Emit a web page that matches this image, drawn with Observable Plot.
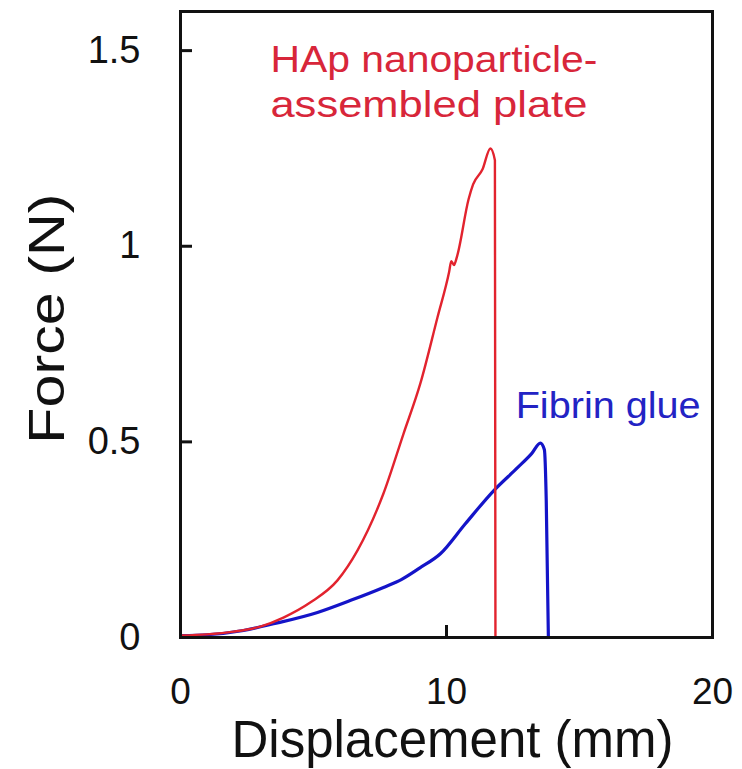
<!DOCTYPE html>
<html>
<head>
<meta charset="utf-8">
<script src="https://cdn.jsdelivr.net/npm/d3@7"></script>
<script src="https://cdn.jsdelivr.net/npm/@observablehq/plot@0.6"></script>
<style>
  html, body { margin: 0; padding: 0; background: #fff; }
  #chart { width: 742px; height: 769px; }
</style>
</head>
<body>
<div id="chart"></div>
<script>
// Axis ticks
const xTicks = [0, 10, 20];
const yTicks = [0, 0.5, 1, 1.5];
const yTickLabels = ["0", "0.5", "1", "1.5"];

// HAp nanoparticle-assembled plate (red)
const hapX = [0, 1, 2, 3, 3.87, 4.89, 5.9, 6.65, 7.63, 8.38, 9.02, 9.66, 10.1, 10.18, 10.28, 10.4, 10.83, 11.0, 11.35, 11.65, 11.82, 11.84];
const hapY = [0.005, 0.008, 0.015, 0.028, 0.051, 0.09, 0.146, 0.222, 0.368, 0.52, 0.65, 0.818, 0.935, 0.962, 0.952, 0.975, 1.12, 1.158, 1.196, 1.25, 1.22, 0];

// Fibrin glue (blue)
const fibX = [0, 1, 2.37, 3.5, 5.15, 6.4, 7.63, 8.3, 9.0, 9.77, 10.7, 11.77, 12.67, 13.2, 13.53, 13.68, 13.75, 13.83];
const fibY = [0.005, 0.007, 0.018, 0.035, 0.064, 0.095, 0.128, 0.148, 0.178, 0.214, 0.29, 0.375, 0.434, 0.47, 0.497, 0.48, 0.35, 0];

// Annotations
const annText = ["HAp nanoparticle-", "assembled plate", "Fibrin glue"];
const annX = [3.38, 3.38, 12.6];
const annY = [1.475, 1.36, 0.59];
const annColor = ["#d8263a", "#d8263a", "#2323c4"];
const annWidth = [327, 317, 185];

const hap = hapX.map((x, i) => ({x, y: hapY[i]}));
const fib = fibX.map((x, i) => ({x, y: fibY[i]}));
const ann = annText.map((t, i) => ({t, x: annX[i], y: annY[i], c: annColor[i]}));

const font = "Liberation Sans, Arial, Helvetica, sans-serif";

const chart = Plot.plot({
  width: 742,
  height: 769,
  marginLeft: 180,
  marginRight: 30,
  marginTop: 11,
  marginBottom: 132,
  style: {fontFamily: font, color: "#111", background: "#fff"},
  x: {domain: [0, 20]},
  y: {domain: [0, 1.6]},
  marks: [
    Plot.line(fib, {x: "x", y: "y", stroke: "#1414c8", strokeWidth: 3.2, strokeLinejoin: "round", curve: "monotone-x"}),
    Plot.line(hap, {x: "x", y: "y", stroke: "#e2232e", strokeWidth: 2.4, strokeLinejoin: "round", curve: "monotone-x"}),
    // inward tick marks: left axis ticks drawn inside the frame, one bottom tick at 10
    Plot.tickY(yTicks.slice(1), {y: d => d, insetRight: 520, stroke: "#111", strokeWidth: 3}),
    Plot.tickX([10], {x: d => d, insetTop: 614, stroke: "#111", strokeWidth: 3}),
    Plot.axisY({ticks: yTicks, tickFormat: (d, i) => yTickLabels[i], tickSize: 0, tickPadding: 40, fontSize: 38, label: null, textAnchor: "end"}),
    Plot.axisX({ticks: xTicks, tickSize: 0, tickPadding: 40, fontSize: 37, label: null}),
    Plot.text(ann, {x: "x", y: "y", text: "t", fill: "c", textAnchor: "start", lineAnchor: "middle", fontSize: 36, className: "ann"}),
    Plot.text(["Displacement (mm)"], {frameAnchor: "bottom", dx: 6, dy: 103, lineAnchor: "middle", fontSize: 51}),
    Plot.text(["Force (N)"], {x: [-5.0], y: [0.815], text: ["Force (N)"], rotate: -90, lineAnchor: "middle", fontSize: 50, className: "ylab"}),
    Plot.frame({stroke: "#111", strokeWidth: 3})
  ]
});

// stretch texts to the widths seen in the reference
d3.select(chart).selectAll("g.ann text").each(function () {
  const i = annText.indexOf(this.textContent);
  if (i >= 0) d3.select(this).attr("textLength", annWidth[i]).attr("lengthAdjust", "spacingAndGlyphs");
});
d3.select(chart).selectAll("g.ylab text").attr("textLength", 250).attr("lengthAdjust", "spacingAndGlyphs");

document.getElementById("chart").appendChild(chart);
</script>
</body>
</html>
